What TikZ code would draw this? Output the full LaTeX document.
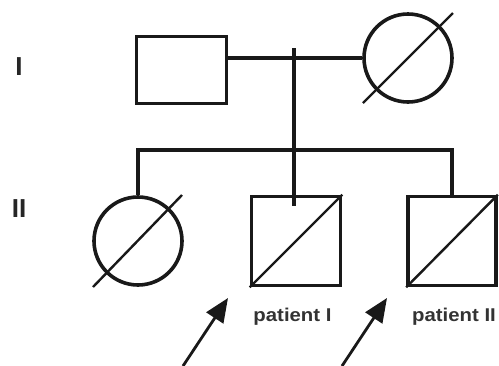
\documentclass[tikz,border=0pt]{standalone}
\usepackage{fontspec}
\setmainfont{Liberation Sans}
\usetikzlibrary{arrows.meta,calc}
\begin{document}
\begin{tikzpicture}[x=1pt,y=-1pt,
  ln/.style={line width=3.4pt,draw=black!90},
  male/.style={draw=black!90,line width=3.6pt,rectangle,inner sep=0pt},
  female/.style={draw=black!90,line width=3.6pt,circle,inner sep=0pt,minimum size=88pt},
  diag/.style={line width=2.4pt,draw=black!90},
  gen/.style={font=\fontsize{26}{26}\selectfont\bfseries,text=black!85},
  pat/.style={font=\fontsize{18.5}{18.5}\selectfont\bfseries,text=black!80,inner sep=0pt},
  arr/.style={line width=2.8pt,draw=black!90,-{Triangle[length=24pt,width=20pt]}}]
\useasboundingbox (0,0) rectangle (499,365);
\fill[white] (0,0) rectangle (499,365);
% generation labels
\node[gen] (g1) at (19,67) {I};
\node[gen] (g2) at (19,209) {II};
% generation I
\node[male,minimum width=90pt,minimum height=67pt] (father) at (181.5,70) {};
\node[female] (mother) at (408,58) {};
\draw[diag] ($(mother.center)+(-45,45)$) -- ($(mother.center)+(45,-45)$);
\draw[ln] (father.east |- mother.west) -- (mother.west);
% generation II
\node[female] (daughter) at (138,241) {};
\draw[diag] ($(daughter.center)+(-45,46)$) -- ($(daughter.center)+(44,-46)$);
\node[male,minimum width=89pt,minimum height=89pt] (p1) at (296,241) {};
\draw[diag] (p1.south west) -- (p1.north east);
\node[male,minimum width=88pt,minimum height=89pt] (p2) at (452,241) {};
\draw[diag] (p2.south west) -- (p2.north east);
% lines of descent
\coordinate (dtop) at (294,48);
\coordinate (dbot) at (294,206);
\coordinate (sibL) at (daughter.north |- 0,150);
\coordinate (sibR) at (p2.north |- 0,150);
\draw[ln] (dtop) -- (dbot);
\draw[ln] (daughter.north) -- (sibL) -- (sibR) -- (p2.north);
% labels
\node[pat,anchor=base] (l1) at (292.5,321) {\scalebox{1.1}[1]{patient I}};
\node[pat,anchor=base west] (l2) at (412,321) {\scalebox{1.1}[1]{patient II}};
% arrows
\coordinate (a1s) at (183,366);
\coordinate (a1e) at (228,298);
\coordinate (a2s) at (342,366);
\coordinate (a2e) at (387,298);
\draw[arr] (a1s) -- (a1e);
\draw[arr] (a2s) -- (a2e);
\end{tikzpicture}
\end{document}
